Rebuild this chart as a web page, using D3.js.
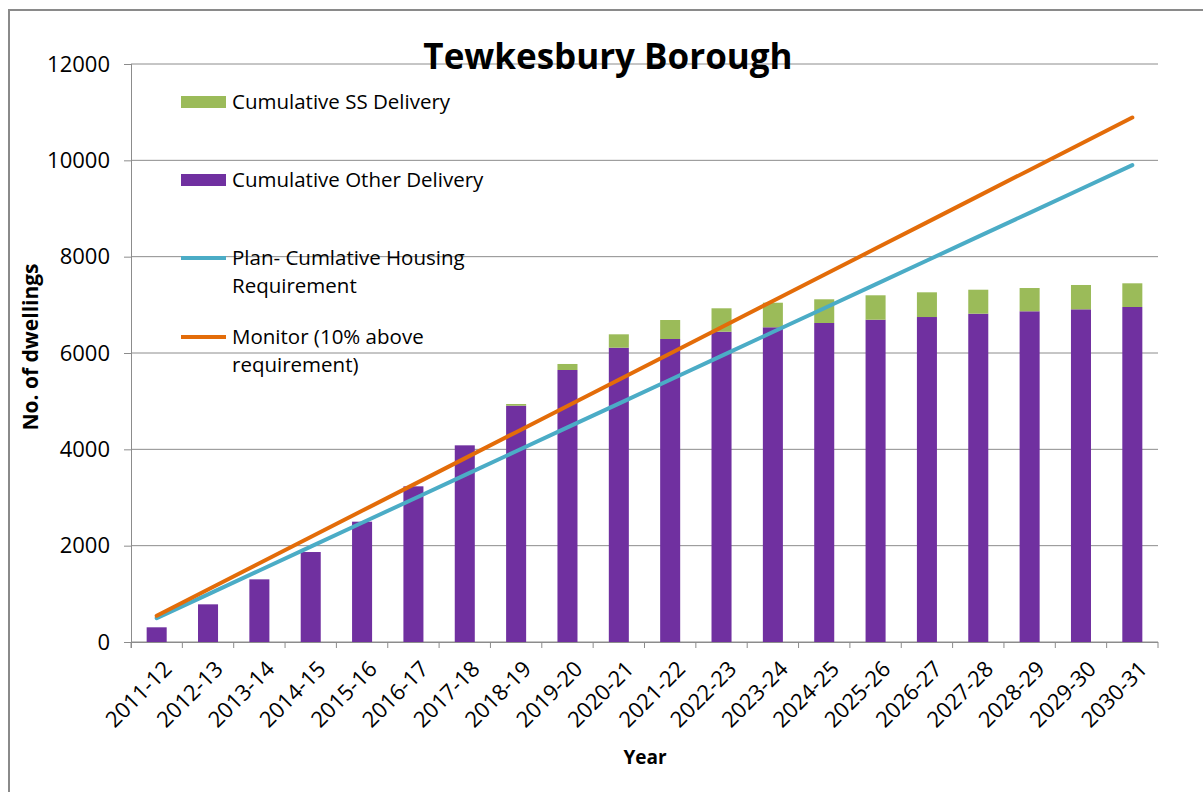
<!DOCTYPE html>
<html>
<head>
<meta charset="utf-8">
<title>Tewkesbury Borough</title>
<script src="https://d3js.org/d3.v7.min.js"></script>
<style>
    body { margin: 0; background: #fff; }
    text { font-family: "Open Sans", sans-serif; fill: #000; }
</style>
</head>
<body>
<div id="chart"></div>
<script>

    // data
    var years = ["2011-12", "2012-13", "2013-14", "2014-15", "2015-16", "2016-17", "2017-18",
        "2018-19", "2019-20", "2020-21", "2021-22", "2022-23", "2023-24", "2024-25",
        "2025-26", "2026-27", "2027-28", "2028-29", "2029-30", "2030-31"];
    var otherDelivery = [305, 782, 1301, 1868, 2498, 3232, 4083, 4906, 5647, 6110,
        6291, 6442, 6534, 6623, 6691, 6747, 6816, 6866, 6907, 6955];
    var ssDelivery = [0, 0, 0, 0, 0, 0, 0, 35, 125, 278,
        394, 486, 510, 492, 507, 513, 498, 483, 505, 492];
    var planRequirement = [495, 990, 1485, 1980, 2475, 2970, 3465, 3960, 4455, 4950,
        5445, 5940, 6435, 6930, 7425, 7920, 8415, 8910, 9405, 9900];
    var monitorRequirement = [545, 1089, 1634, 2178, 2723, 3267, 3812, 4356, 4901, 5445,
        5990, 6534, 7079, 7623, 8168, 8712, 9257, 9801, 10346, 10890];
    var yTicks = [0, 2000, 4000, 6000, 8000, 10000, 12000];

    var purple = "#7030A0", green = "#9BBB59", blue = "#4BACC6", orange = "#E36C09";
    var gridColor = "#8c8c8c";

    // dimensions & margins
    var margin = { top: 64, right: 45, bottom: 150, left: 131 },
        width = 1203 - margin.left - margin.right,
        height = 792 - margin.top - margin.bottom;

    var root = d3.select("#chart")
        .append("svg")
        .attr("width", 1203)
        .attr("height", 792);

    // outer frame
    root.append("rect")
        .attr("x", 9).attr("y", 10)
        .attr("width", 1220).attr("height", 800)
        .attr("fill", "none")
        .attr("stroke", "#8a8a8a")
        .attr("stroke-width", 2);

    var svg = root.append("g")
        .attr("transform", "translate(" + margin.left + "," + margin.top + ")");

    // scales
    var x = d3.scaleBand()
        .domain(years)
        .range([0, width])
        .paddingInner(0.61)
        .paddingOuter(0.305);

    var y = d3.scaleLinear()
        .domain([0, 12000])
        .range([height, 0]);

    // gridlines
    svg.append("g")
        .selectAll("line")
        .data(yTicks)
        .enter()
        .append("line")
        .attr("x1", 0).attr("x2", width)
        .attr("y1", function (d) { return y(d); })
        .attr("y2", function (d) { return y(d); })
        .attr("stroke", gridColor)
        .attr("stroke-width", 1);

    // Y axis
    var yAxis = svg.append("g")
        .call(d3.axisLeft(y).tickValues(yTicks).tickFormat(d3.format("d"))
            .tickSize(7).tickPadding(14).tickSizeOuter(0));
    yAxis.select(".domain").attr("stroke", gridColor).attr("d", "M0.5,0V" + (height + 6));
    yAxis.selectAll(".tick line").attr("stroke", gridColor);
    yAxis.selectAll("text")
        .style("font-size", "22px")
        .style("font-family", "'Open Sans', sans-serif")
        .attr("fill", "#000");

    // stacked bars
    svg.append("g")
        .selectAll("rect")
        .data(years)
        .enter()
        .append("rect")
        .attr("x", function (d) { return x(d); })
        .attr("width", x.bandwidth())
        .attr("y", function (d, i) { return y(otherDelivery[i]); })
        .attr("height", function (d, i) { return height - y(otherDelivery[i]); })
        .attr("fill", purple);

    svg.append("g")
        .selectAll("rect")
        .data(years)
        .enter()
        .append("rect")
        .attr("x", function (d) { return x(d); })
        .attr("width", x.bandwidth())
        .attr("y", function (d, i) { return y(otherDelivery[i] + ssDelivery[i]); })
        .attr("height", function (d, i) { return y(otherDelivery[i]) - y(otherDelivery[i] + ssDelivery[i]); })
        .attr("fill", green);

    // X axis
    svg.append("line")
        .attr("x1", 0).attr("x2", width)
        .attr("y1", height + 0.5).attr("y2", height + 0.5)
        .attr("stroke", gridColor);

    var step = x.step();
    svg.append("g")
        .selectAll("line")
        .data(d3.range(years.length + 1))
        .enter()
        .append("line")
        .attr("x1", function (d) { return d * step; })
        .attr("x2", function (d) { return d * step; })
        .attr("y1", height).attr("y2", height + 6)
        .attr("stroke", gridColor);

    svg.append("g")
        .selectAll("text")
        .data(years)
        .enter()
        .append("text")
        .attr("transform", function (d) {
            return "translate(" + (x(d) + x.bandwidth() / 2 + 11) + "," + (height + 23) + ") rotate(-45)";
        })
        .attr("text-anchor", "end")
        .attr("dy", "0.35em")
        .style("font-size", "22px")
        .text(function (d) { return d; });

    // lines
    var line = d3.line()
        .x(function (d, i) { return x(years[i]) + x.bandwidth() / 2; })
        .y(function (d) { return y(d); });

    svg.append("path")
        .datum(planRequirement)
        .attr("d", line)
        .attr("fill", "none")
        .attr("stroke", blue)
        .attr("stroke-width", 4)
        .attr("stroke-linecap", "round");

    svg.append("path")
        .datum(monitorRequirement)
        .attr("d", line)
        .attr("fill", "none")
        .attr("stroke", orange)
        .attr("stroke-width", 4)
        .attr("stroke-linecap", "round");

    // title
    root.append("text")
        .attr("x", 608)
        .attr("y", 69)
        .attr("text-anchor", "middle")
        .style("font-size", "35px")
        .style("font-weight", "bold")
        .text("Tewkesbury Borough");

    // axis titles
    root.append("text")
        .attr("transform", "translate(38,347) rotate(-90)")
        .attr("text-anchor", "middle")
        .style("font-size", "21px")
        .style("font-weight", "bold")
        .text("No. of dwellings");

    root.append("text")
        .attr("x", 645)
        .attr("y", 764)
        .attr("text-anchor", "middle")
        .style("font-size", "19px")
        .style("font-weight", "bold")
        .text("Year");

    // legend
    var legend = root.append("g");
    var items = [
        { type: "rect", color: green, y: 102, lines: ["Cumulative SS Delivery"] },
        { type: "rect", color: purple, y: 180, lines: ["Cumulative Other Delivery"] },
        { type: "line", color: blue, y: 258, lines: ["Plan- Cumlative Housing", "Requirement"] },
        { type: "line", color: orange, y: 337, lines: ["Monitor (10% above", "requirement)"] }
    ];
    items.forEach(function (it) {
        if (it.type == "rect") {
            legend.append("rect")
                .attr("x", 181).attr("y", it.y - 6)
                .attr("width", 45).attr("height", 12)
                .attr("fill", it.color);
        } else {
            legend.append("line")
                .attr("x1", 181).attr("x2", 226)
                .attr("y1", it.y).attr("y2", it.y)
                .attr("stroke", it.color)
                .attr("stroke-width", 4);
        }
        it.lines.forEach(function (t, j) {
            legend.append("text")
                .attr("x", 232)
                .attr("y", it.y + j * 28)
                .attr("dy", "0.35em")
                .style("font-size", "20.5px")
                .text(t);
        });
    });

</script>
</body>
</html>
